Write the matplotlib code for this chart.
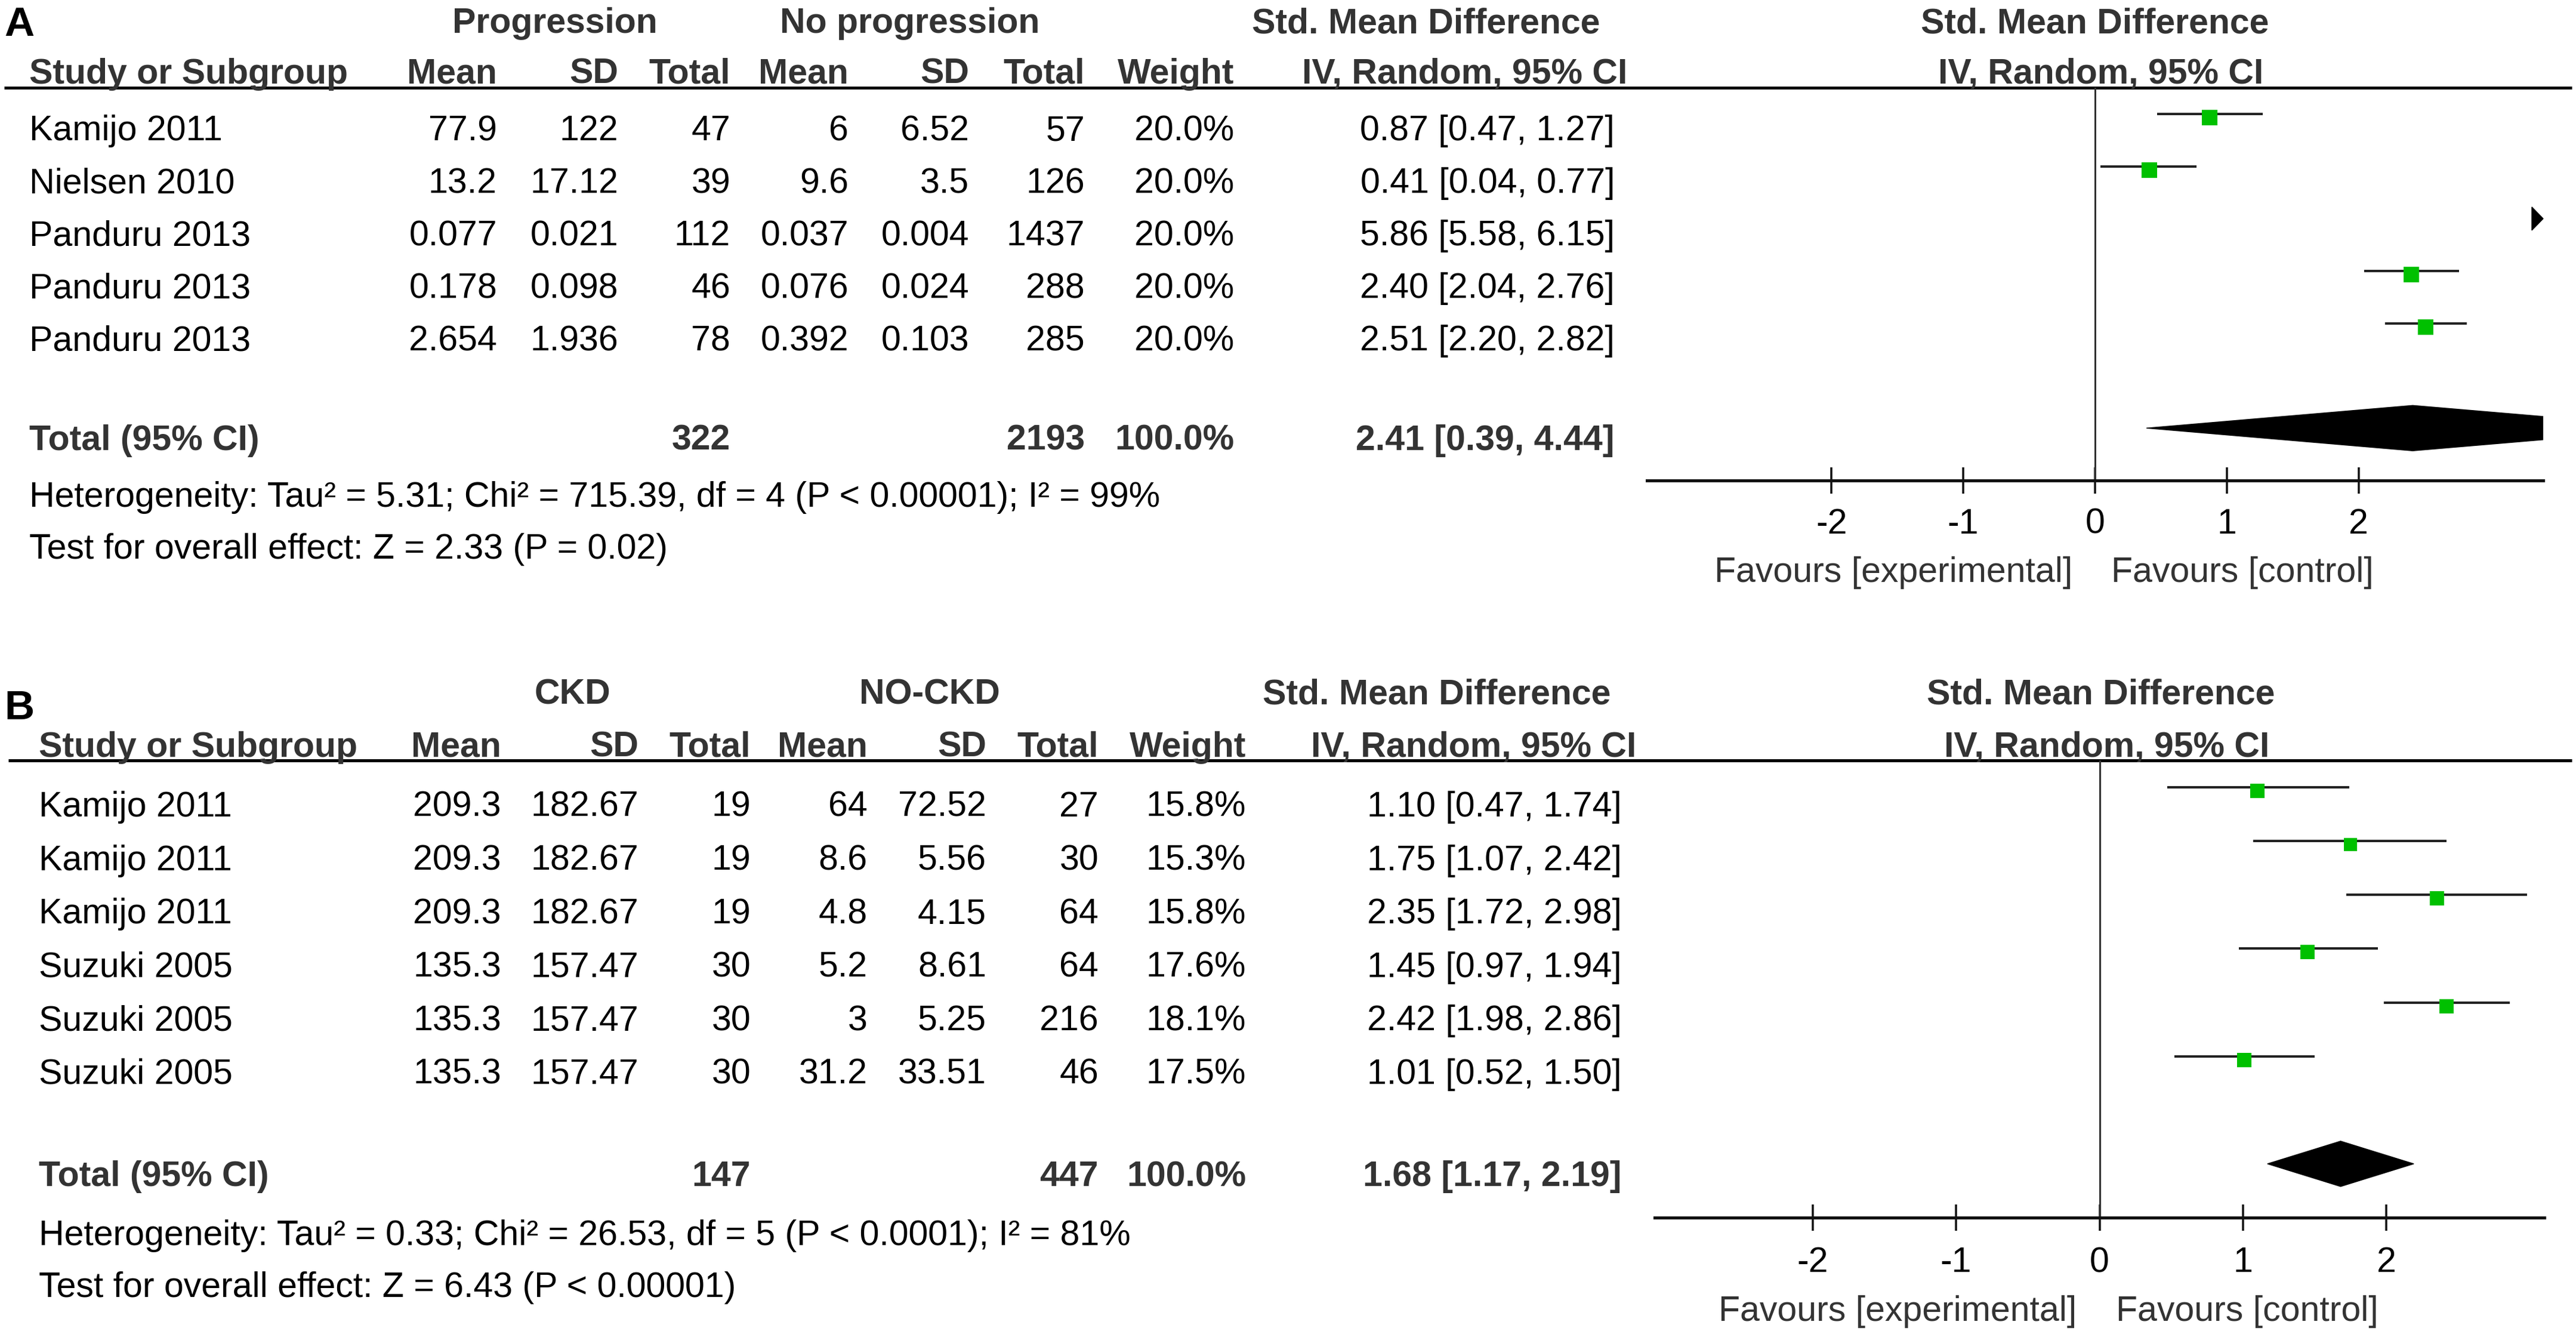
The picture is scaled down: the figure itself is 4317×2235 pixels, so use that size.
import matplotlib
matplotlib.use("Agg")
import matplotlib.pyplot as plt
import matplotlib.transforms as mtransforms
from matplotlib.patches import Polygon

plt.rcParams['font.family'] = ['Liberation Sans', 'DejaVu Sans']
plt.rcParams['axes.unicode_minus'] = False

# ---------------- Panel A data ----------------
studies_a = ["Kamijo 2011", "Nielsen 2010", "Panduru 2013", "Panduru 2013", "Panduru 2013"]
exp_mean_a = [77.9, 13.2, 0.077, 0.178, 2.654]
exp_sd_a = [122, 17.12, 0.021, 0.098, 1.936]
exp_n_a = [47, 39, 112, 46, 78]
ctl_mean_a = [6, 9.6, 0.037, 0.076, 0.392]
ctl_sd_a = [6.52, 3.5, 0.004, 0.024, 0.103]
ctl_n_a = [57, 126, 1437, 288, 285]
weight_a = [20.0, 20.0, 20.0, 20.0, 20.0]
smd_a = [0.87, 0.41, 5.86, 2.40, 2.51]
lo_a = [0.47, 0.04, 5.58, 2.04, 2.20]
hi_a = [1.27, 0.77, 6.15, 2.76, 2.82]
groups_a = ["Progression", "No progression"]
total_n_a = [322, 2193]
total_weight_a = 100.0
pooled_a = [2.41, 0.39, 4.44]
het_a = "Heterogeneity: Tau² = 5.31; Chi² = 715.39, df = 4 (P < 0.00001); I² = 99%"
test_a = "Test for overall effect: Z = 2.33 (P = 0.02)"

# ---------------- Panel B data ----------------
studies_b = ["Kamijo 2011", "Kamijo 2011", "Kamijo 2011", "Suzuki 2005", "Suzuki 2005", "Suzuki 2005"]
exp_mean_b = [209.3, 209.3, 209.3, 135.3, 135.3, 135.3]
exp_sd_b = [182.67, 182.67, 182.67, 157.47, 157.47, 157.47]
exp_n_b = [19, 19, 19, 30, 30, 30]
ctl_mean_b = [64, 8.6, 4.8, 5.2, 3, 31.2]
ctl_sd_b = [72.52, 5.56, 4.15, 8.61, 5.25, 33.51]
ctl_n_b = [27, 30, 64, 64, 216, 46]
weight_b = [15.8, 15.3, 15.8, 17.6, 18.1, 17.5]
smd_b = [1.10, 1.75, 2.35, 1.45, 2.42, 1.01]
lo_b = [0.47, 1.07, 1.72, 0.97, 1.98, 0.52]
hi_b = [1.74, 2.42, 2.98, 1.94, 2.86, 1.50]
groups_b = ["CKD", "NO-CKD"]
total_n_b = [147, 447]
total_weight_b = 100.0
pooled_b = [1.68, 1.17, 2.19]
het_b = "Heterogeneity: Tau² = 0.33; Chi² = 26.53, df = 5 (P < 0.0001); I² = 81%"
test_b = "Test for overall effect: Z = 6.43 (P < 0.00001)"

col_heads = ["Mean", "SD", "Total", "Mean", "SD", "Total", "Weight"]
axis_ticks = [-2, -1, 0, 1, 2]
fav_labels = ["Favours [experimental]", "Favours [control]"]

# ---------------- figure ----------------
W, H, DPI = 4317, 2235, 100
fig = plt.figure(figsize=(W / DPI, H / DPI), dpi=DPI)
fig.patch.set_facecolor("white")
ov = fig.add_axes([0, 0, 1, 1])
ov.set_xlim(0, W)
ov.set_ylim(H, 0)
ov.axis("off")

FS = 42.5
HEAD = "#333333"
TXT = "#000000"
GREEN = "#00C000"


def pt(px):
    return px * 72.0 / DPI


def fmt(v):
    return f"{v:g}"


def ci_text(e, l, h):
    return f"{e:.2f} [{l:.2f}, {h:.2f}]"


def panel(L, studies, em, es, en, cm, cs, cn, w, smd, lo, hi, groups,
          total_n, total_w, pooled, het, test):
    n = len(studies)
    # panel letter
    ov.text(7, L["label_base"], L["label"], fontsize=50, fontweight="bold",
            color="black", ha="left", va="baseline")
    # group headers
    for g, cx in zip(groups, L["grp_center"]):
        ov.text(cx, L["grp_base"], g, fontsize=FS, fontweight="bold", color=HEAD,
                ha="center", va="baseline")
    ov.text(L["smd_head_center"], L["grp_base"], "Std. Mean Difference", fontsize=FS,
            fontweight="bold", color=HEAD, ha="center", va="baseline")
    # column headers
    ov.text(L["study_x"], L["head_base"], "Study or Subgroup", fontsize=FS,
            fontweight="bold", color=HEAD, ha="left", va="baseline")
    for h, xr_ in zip(col_heads, L["col_right"]):
        ov.text(xr_, L["head_base"], h, fontsize=FS, fontweight="bold", color=HEAD,
                ha="right", va="baseline")
    ov.text(L["iv_head_center"], L["head_base"], "IV, Random, 95% CI", fontsize=FS,
            fontweight="bold", color=HEAD, ha="center", va="baseline")
    # header rule
    ov.plot([L["line_x0"], 4310], [L["line_y"], L["line_y"]], color="black",
            lw=pt(5), solid_capstyle="butt")
    # study rows
    cr = L["col_right"]
    for i in range(n):
        yb = L["row_base0"] + L["row_step"] * i
        ov.text(L["study_x"], yb, studies[i], fontsize=FS, color=TXT, ha="left", va="baseline")
        vals = [fmt(em[i]), fmt(es[i]), str(en[i]), fmt(cm[i]), fmt(cs[i]), str(cn[i]),
                f"{w[i]:.1f}%"]
        for v, xr_ in zip(vals, cr):
            ov.text(xr_, yb, v, fontsize=FS, color=TXT, ha="right", va="baseline")
        ov.text(L["ci_right"], yb, ci_text(smd[i], lo[i], hi[i]), fontsize=FS, color=TXT,
                ha="right", va="baseline")
    # total row
    tb = L["total_base"]
    ov.text(L["study_x"], tb, "Total (95% CI)", fontsize=FS, fontweight="bold", color=HEAD,
            ha="left", va="baseline")
    ov.text(cr[2], tb, str(total_n[0]), fontsize=FS, fontweight="bold", color=HEAD,
            ha="right", va="baseline")
    ov.text(cr[5], tb, str(total_n[1]), fontsize=FS, fontweight="bold", color=HEAD,
            ha="right", va="baseline")
    ov.text(cr[6], tb, f"{total_w:.1f}%", fontsize=FS, fontweight="bold", color=HEAD,
            ha="right", va="baseline")
    ov.text(L["ci_right"], tb, ci_text(*pooled), fontsize=FS, fontweight="bold", color=HEAD,
            ha="right", va="baseline")
    ov.text(L["study_x"], L["het_base"], het, fontsize=FS, color=TXT, ha="left", va="baseline")
    ov.text(L["study_x"], L["test_base"], test, fontsize=FS, color=TXT, ha="left", va="baseline")

    # ---------------- forest plot ----------------
    x0, x1, y0, y1, xr = L["fx0"], L["fx1"], L["fy0"], L["fy1"], L["xr"]
    ax = fig.add_axes([x0 / W, 1 - y1 / H, (x1 - x0) / W, (y1 - y0) / H])
    ax.patch.set_alpha(0)
    ax.set_xlim(-xr, xr)
    total_row = n + 1
    ax.set_ylim(n + 2, -0.5)
    for s in ["top", "left", "right"]:
        ax.spines[s].set_visible(False)
    ax.spines["bottom"].set_linewidth(pt(5))
    ax.spines["bottom"].set_color("#111111")
    ax.set_yticks([])
    ax.set_xticks(axis_ticks)
    ax.tick_params(axis="x", direction="inout", length=pt(44), width=pt(3.5),
                   color="#111111", labelbottom=False)
    ax.axvline(0, color="#333333", lw=pt(3))

    ppu = (x1 - x0) / (2 * xr)          # pixels per unit
    ppr = (y1 - y0) / (n + 2.5)         # pixels per row
    rows = list(range(n))
    ax.hlines(rows, lo, hi, color="#222222", lw=pt(4))
    sq_trans = mtransforms.offset_copy(ax.transData, fig=fig, x=0, y=-6, units="dots")
    for i in rows:
        if hi[i] > xr:
            tw, th = 19 / ppu, 19.5 / ppr
            ax.add_patch(Polygon([(xr - tw, i - th), (xr, i), (xr - tw, i + th)],
                                 closed=True, color="black", clip_on=False))
        side = 26 * (w[i] / 20.0) ** 0.5
        if smd[i] <= xr:
            ax.plot([smd[i]], [i], marker="s", ms=pt(side), mew=0, color=GREEN,
                    ls="none", transform=sq_trans)
    dh = 38 / ppr
    e, l, h = pooled
    ax.add_patch(Polygon([(l, total_row), (e, total_row - dh), (h, total_row),
                          (e, total_row + dh)], closed=True, color="black"))

    blend = mtransforms.blended_transform_factory(ax.transData, ov.transData)
    for t in axis_ticks:
        ax.text(t, L["tick_base"], str(t), transform=blend, fontsize=FS, color="black",
                ha="center", va="baseline")
    ax.text(0, L["fav_base"], fav_labels[0], fontsize=FS, color=HEAD, ha="right",
            va="baseline",
            transform=mtransforms.offset_copy(blend, fig=fig, x=-38, y=0, units="dots"))
    ax.text(0, L["fav_base"], fav_labels[1], fontsize=FS, color=HEAD, ha="left",
            va="baseline",
            transform=mtransforms.offset_copy(blend, fig=fig, x=27, y=0, units="dots"))
    ax.text(0, L["grp_base"], "Std. Mean Difference", fontsize=FS, fontweight="bold",
            color=HEAD, ha="center", va="baseline",
            transform=mtransforms.offset_copy(blend, fig=fig, x=L["fhead_dx"][0], y=0,
                                              units="dots"))
    ax.text(0, L["head_base"], "IV, Random, 95% CI", fontsize=FS, fontweight="bold",
            color=HEAD, ha="center", va="baseline",
            transform=mtransforms.offset_copy(blend, fig=fig, x=L["fhead_dx"][1], y=0,
                                              units="dots"))


LA = dict(label="A", label_base=60, grp_base=55, head_base=140, line_y=147, line_x0=7,
          row_base0=235, row_step=88, total_base=754, het_base=849, test_base=936,
          study_x=49, col_right=[833, 1036, 1224, 1422, 1624, 1818, 2068], ci_right=2706,
          grp_center=[930, 1525], smd_head_center=2390, iv_head_center=2455,
          fx0=2760, fx1=4262, fy0=147, fy1=805, xr=3.4, fhead_dx=[0, 10],
          tick_base=894, fav_base=975)
LB = dict(label="B", label_base=1205, grp_base=1179, head_base=1268, line_y=1274, line_x0=14,
          row_base0=1368, row_step=89.6, total_base=1987, het_base=2086, test_base=2173,
          study_x=65, col_right=[840, 1070, 1258, 1454, 1653, 1841, 2088], ci_right=2718,
          grp_center=[959, 1558], smd_head_center=2408, iv_head_center=2470,
          fx0=2773, fx1=4264, fy0=1274, fy1=2040, xr=3.1, fhead_dx=[2, 12],
          tick_base=2131, fav_base=2213)

panel(LA, studies_a, exp_mean_a, exp_sd_a, exp_n_a, ctl_mean_a, ctl_sd_a, ctl_n_a,
      weight_a, smd_a, lo_a, hi_a, groups_a, total_n_a, total_weight_a, pooled_a, het_a, test_a)
panel(LB, studies_b, exp_mean_b, exp_sd_b, exp_n_b, ctl_mean_b, ctl_sd_b, ctl_n_b,
      weight_b, smd_b, lo_b, hi_b, groups_b, total_n_b, total_weight_b, pooled_b, het_b, test_b)

fig.savefig("out.png", dpi=DPI, facecolor="white")
